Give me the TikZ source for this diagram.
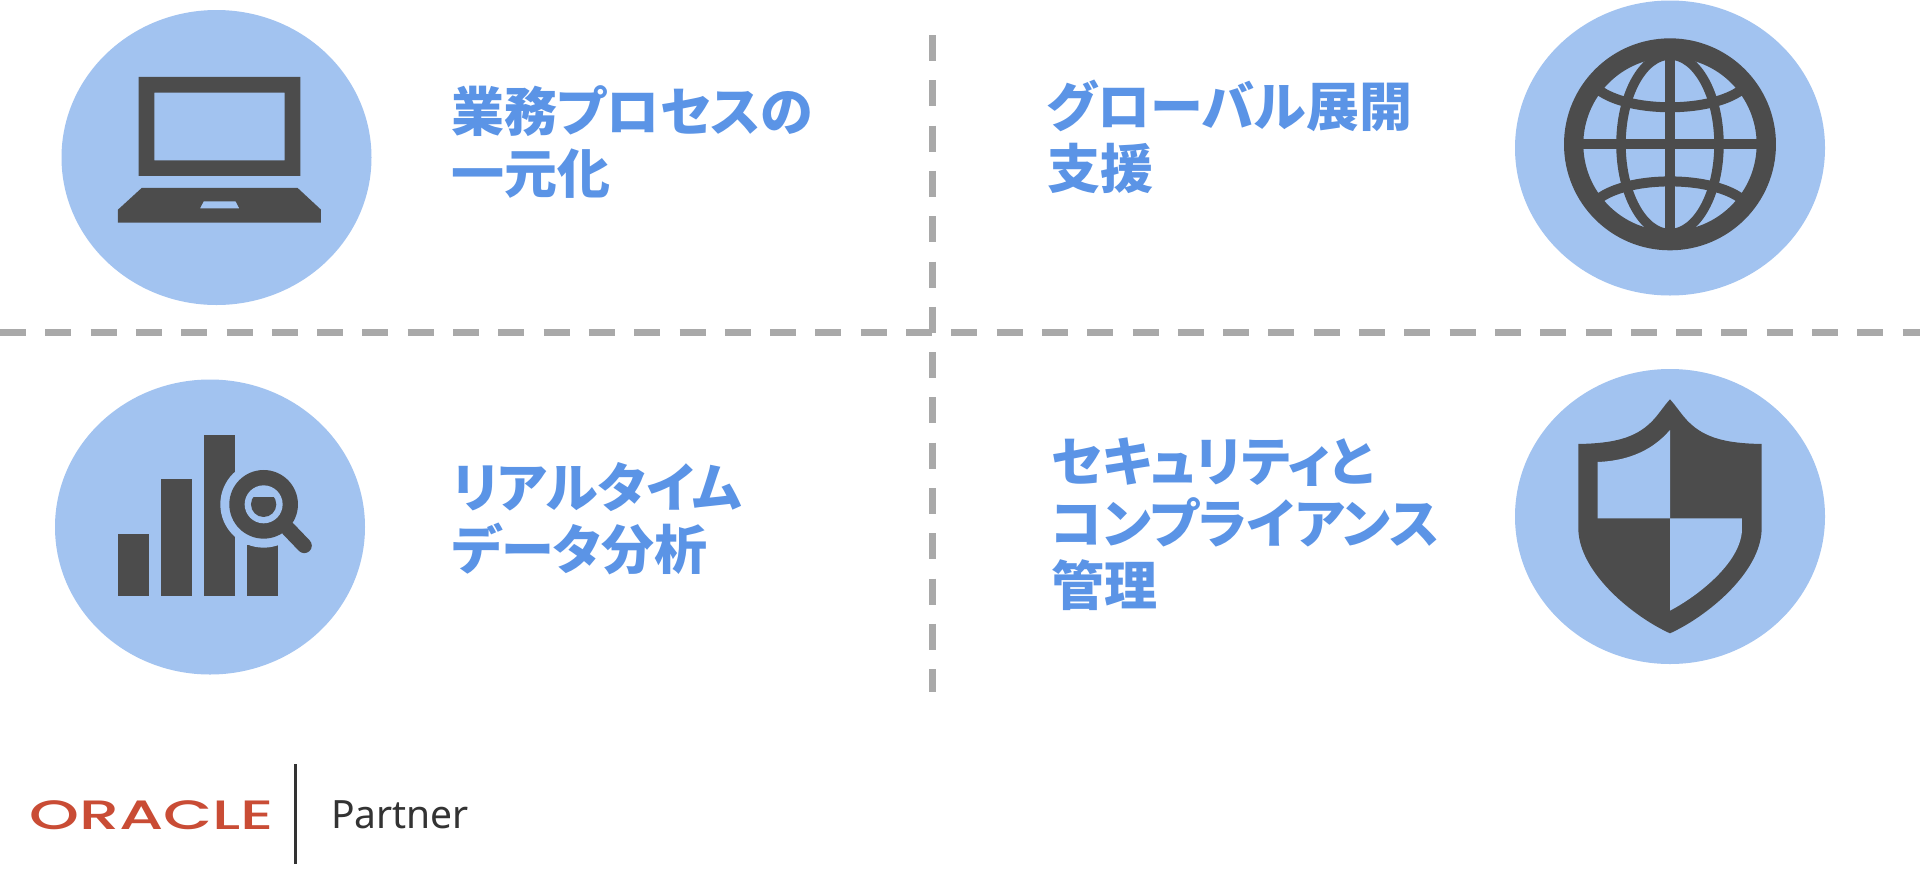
\documentclass[tikz,border=0pt]{standalone}
\usepackage{fontspec}
\setmainfont{Noto Sans}
\newfontfamily\jpfont[RawFeature={+palt}]{Noto Sans CJK JP}
\newfontfamily\oraclefont[UprightFont={* Medium}]{Poppins}
\newfontfamily\partnerfont{Noto Sans}
\definecolor{disc}{HTML}{A2C3F0}
\definecolor{icon}{HTML}{4C4C4C}
\definecolor{dashgrey}{HTML}{A9A9A9}
\definecolor{label}{HTML}{5B94E6}
\definecolor{oracle}{HTML}{C94C35}
\definecolor{partner}{HTML}{333333}
\tikzset{
  discnode/.style={draw=none,fill=disc,ellipse,minimum width=310pt,minimum height=295pt,inner sep=0pt},
  divider/.style={draw=dashgrey,line width=6.4pt,dash pattern=on 26pt off 19.3pt},
  dark/.style={fill=icon,draw=none},
  hole/.style={fill=disc,draw=none},
  caption/.style={anchor=north west,inner sep=0pt,text=label,align=left,font=\jpfont\bfseries\fontsize{53}{62}\selectfont},
}
\usetikzlibrary{shapes.geometric}
\begin{document}
\begin{tikzpicture}[x=1pt,y=-1pt]
\useasboundingbox (0,0) rectangle (1920,895);
\fill[white] (0,0) rectangle (1920,895);
% dividers
\coordinate (hl) at (0,332.5);
\coordinate (hr) at (1920,332.5);
\coordinate (vt) at (932.5,35);
\coordinate (vb) at (932.5,692);
\draw[divider] (hl) -- (hr);
\draw[divider] (vt) -- (vb);
% discs
\node[discnode] (d1) at (216.5,157.5) {};
\node[discnode] (d2) at (1670,148) {};
\node[discnode] (d3) at (210,527) {};
\node[discnode] (d4) at (1670,516.5) {};
% laptop
\begin{scope}[shift={(40,0)},x=0.3333pt,y=-0.3333pt]
\fill[dark,even odd rule] (296,231) rectangle (781,528) (343,278) rectangle (734,481);
\fill[dark,even odd rule] (305,564) -- (773,564) -- (843,629) -- (843,668) -- (234,668) -- (234,629) -- cycle
  (491,604) -- (587,604) -- (598,625) -- (480,625) -- cycle;
\end{scope}
% globe
\begin{scope}[shift={(1500,0)},x=0.3333pt,y=-0.3333pt]
\fill[dark,even odd rule] (510,433) circle[radius=318] (510,433) circle[radius=260];
\begin{scope}
\clip (510,433) circle[radius=290];
\draw[icon,line width=9.5pt] (510,433) ellipse[x radius=147,y radius=268];
\draw[icon,line width=9.5pt] (510,130) -- (510,736);
\draw[icon,line width=10pt] (200,433) -- (820,433);
\draw[icon,line width=10pt] (270,258) -- (305,276) .. controls (400,337) and (620,337) .. (715,276) -- (750,258);
\draw[icon,line width=10pt] (270,608) -- (305,590) .. controls (400,529) and (620,529) .. (715,590) -- (750,608);
\end{scope}
\end{scope}
% chart
\begin{scope}[shift={(40,370)},x=0.3333pt,y=-0.3333pt]
\fill[dark] (234,492) rectangle (326,677);
\fill[dark] (363,326) rectangle (456,677);
\fill[dark] (492,196) rectangle (585,677);
\fill[dark] (622,525) rectangle (715,677);
\fill[hole] (671,403) circle[radius=130];
\draw[icon,line width=15pt,line cap=round] (745,477) -- (793,527);
\fill[dark] (671,403) circle[radius=103];
\fill[hole] (671,403) circle[radius=57];
\begin{scope}
\clip (620,382) rectangle (720,450);
\fill[dark] (671,403) circle[radius=38];
\end{scope}
\end{scope}
% shield
\begin{scope}[shift={(1500,360)},x=0.3333pt,y=-0.3333pt]
\fill[dark] (510,118) .. controls (530,140) and (545,165) .. (565,185) .. controls (615,235) and (680,250) .. (785,252) -- (785,510)
  .. controls (780,640) and (620,770) .. (510,820) .. controls (400,770) and (240,640) .. (235,510)
  -- (235,252) .. controls (340,250) and (405,235) .. (455,185) .. controls (475,165) and (490,140) .. (510,118) -- cycle;
\fill[hole] (510,210) .. controls (450,280) and (370,303) .. (293,306) -- (293,475) -- (510,475) -- cycle;
\fill[hole] (510,475) -- (726,475) -- (726,510) .. controls (722,610) and (590,710) .. (510,752) -- cycle;
\end{scope}
% captions
\node[caption] (t1) at (451,85) {業務プロセスの\\一元化};
\node[caption] (t2) at (1047,80) {グローバル展開\\支援};
\node[caption] (t3) at (452,462) {リアルタイム\\データ分析};
\node[caption] (t4) at (1051,438) {セキュリティと\\コンプライアンス\\管理};
% logo
\node[anchor=base west,inner sep=0pt,text=oracle,font=\oraclefont\fontsize{41}{41}\selectfont,xscale=1.55] (oracle) at (29,829) {ORACLE};
\coordinate (bart) at (295.7,764);
\coordinate (barb) at (295.7,864);
\draw[partner,line width=3pt] (bart) -- (barb);
\node[anchor=base west,inner sep=0pt,text=partner,font=\partnerfont\fontsize{39}{39}\selectfont] (partner) at (331,828) {Partner};
\end{tikzpicture}
\end{document}
